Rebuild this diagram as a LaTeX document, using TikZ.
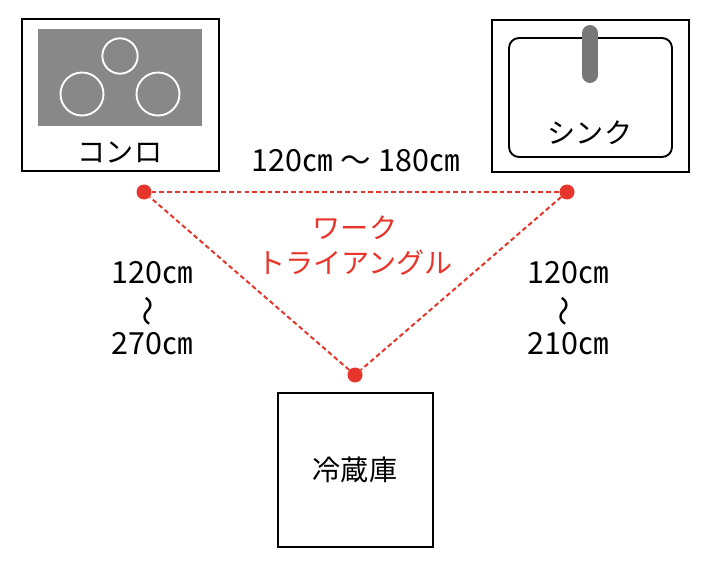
\documentclass[tikz,border=0pt]{standalone}
\usepackage{fontspec}
\setmainfont{Noto Sans CJK JP}
\usepackage{graphicx}

\definecolor{trired}{HTML}{E8352B}
\definecolor{hobgray}{HTML}{888888}
\definecolor{tapgray}{HTML}{777777}

\begin{document}
\begin{tikzpicture}[x=0.03cm, y=-0.03cm,
  fixture/.style={draw, line width=2.5pt, inner sep=0pt},
  txt/.style={font=\fontsize{24}{30}\selectfont, align=center, inner sep=0pt},
  dist/.style={txt, font=\fontsize{26}{30.2}\selectfont},
  spot/.style={circle, fill=trired, inner sep=0pt, minimum size=0.45cm},
  tri/.style={draw=trired, line width=1.7pt, dash pattern=on 4pt off 2.6pt},
  burner/.style={draw=white, line width=1.6pt}
]
\useasboundingbox (0,0) rectangle (709,567);

\node[fixture, minimum width=5.91cm, minimum height=4.56cm] (stove) at (120.5,95) {};
\fill[hobgray] (38,29) rectangle (202,126);
\draw[burner] (120,56) circle[radius=0.53cm];
\draw[burner] (82,94) circle[radius=0.645cm];
\draw[burner] (158,94) circle[radius=0.645cm];
\node[txt] (stovename) at (120,152) {コンロ};

\node[fixture, minimum width=5.91cm, minimum height=4.56cm] (sink) at (590.5,96) {};
\draw[line width=1.6pt, rounded corners=0.3cm] (509,38) rectangle (672,157);
\draw[tapgray, line width=13.6pt, line cap=round] (590,33) -- (590,75);
\node[txt] (sinkname) at (590,133) {シンク};

\node[fixture, minimum width=4.65cm, minimum height=4.62cm] (fridge) at (355.5,470) {};
\node[txt] (fridgename) at (355,470) {冷蔵庫};

\node[spot] (p1) at (144,192) {};
\node[spot] (p2) at (567,192) {};
\node[spot] (p3) at (355,375) {};
\draw[tri] (p1) -- (p2);
\draw[tri] (p2) -- (p3);
\draw[tri] (p3) -- (p1);

\node[dist] (top) at (356,161) {120㎝\hspace{0.25em}〜\hspace{0.25em}180㎝};
\node[txt, text=trired] (wt) at (355,246) {ワーク\\トライアングル};
\node[dist] (left) at (152,308) {120㎝\\\rotatebox[origin=c]{90}{〜}\\270㎝};
\node[dist] (right) at (568,308) {120㎝\\\rotatebox[origin=c]{90}{〜}\\210㎝};
\end{tikzpicture}
\end{document}
